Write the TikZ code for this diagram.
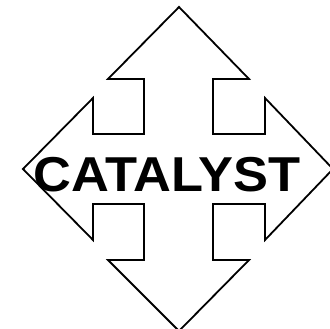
\documentclass[tikz,border=0pt]{standalone}
\usepackage{fontspec}
\newfontfamily\labelfont{Liberation Sans}
\begin{document}
\begin{tikzpicture}[x=1pt,y=-1pt]
\useasboundingbox (0,0) rectangle (330,329);
\clip (0,0) rectangle (330,329);
\coordinate (N) at (179,7); \coordinate (E) at (333,169); \coordinate (S) at (179,331); \coordinate (W) at (23,169);
\draw[line width=1.8pt,line join=miter] (N)--(249,79)--(213,79)--(213,134)--(265,134)--(265,98)--(E)--(265,240)--(265,204)--(213,204)--(213,260)--(249,260)--(S)--(108,260)--(144,260)--(144,204)--(93,204)--(93,240)--(W)--(93,98)--(93,134)--(144,134)--(144,79)--(108,79)--cycle;
\node[font=\labelfont\bfseries\fontsize{49}{49}\selectfont,xscale=1.07,inner sep=0pt] (cat) at (167,175) {CATALYST};
\end{tikzpicture}
\end{document}
